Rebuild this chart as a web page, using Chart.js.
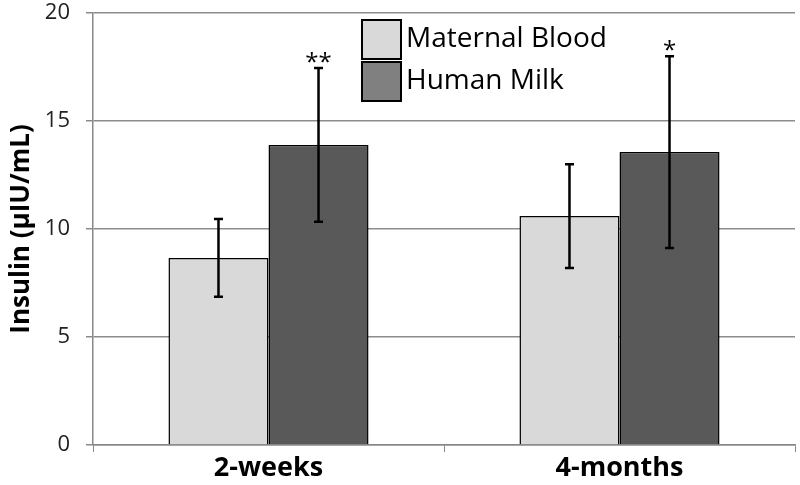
<!DOCTYPE html>
<html>
<head>
<meta charset="utf-8">
<script src="https://cdn.jsdelivr.net/npm/chart.js@4"></script>
<style>
  html, body { margin: 0; padding: 0; background: #fff; }
  #wrap { width: 800px; height: 485px; }
</style>
</head>
<body>
<div id="wrap"><canvas id="insulin-chart" width="800" height="485"></canvas></div>
<script>
// Chart data
const categories = ["2-weeks", "4-months"]
const seriesNames = ["Maternal Blood", "Human Milk"]
const maternalBlood = [8.66, 10.6]
const humanMilk = [13.89, 13.56]
const maternalBloodSD = [1.8, 2.4]
const humanMilkSD = [3.56, 4.44]
const humanMilkStars = ["**", "*"]
const yTicks = [0, 5, 10, 15, 20]

const FONT = "'Open Sans', 'Noto Sans', sans-serif"

// Error bars and significance stars, drawn from the scales
const errorBarPlugin = {
    id: "errorBars",
    afterDatasetsDraw(chart) {
        const ctx = chart.ctx
        const yScale = chart.scales.y
        const sds = [maternalBloodSD, humanMilkSD]
        ctx.save()
        chart.data.datasets.forEach((ds, di) => {
            const meta = chart.getDatasetMeta(di)
            meta.data.forEach((bar, i) => {
                const v = ds.data[i]
                const sd = sds[di][i]
                const top = yScale.getPixelForValue(v + sd)
                const bottom = yScale.getPixelForValue(v - sd)
                ctx.strokeStyle = "#000"
                ctx.lineWidth = 2.5
                ctx.beginPath()
                ctx.moveTo(bar.x, top)
                ctx.lineTo(bar.x, bottom)
                ctx.moveTo(bar.x - 4.5, top)
                ctx.lineTo(bar.x + 4.5, top)
                ctx.moveTo(bar.x - 4.5, bottom)
                ctx.lineTo(bar.x + 4.5, bottom)
                ctx.stroke()
                if (di === 1) {
                    ctx.fillStyle = "#000"
                    ctx.font = "24px " + FONT
                    ctx.textAlign = "center"
                    ctx.textBaseline = "alphabetic"
                    ctx.fillText(humanMilkStars[i], bar.x, top + 2)
                }
            })
        })
        ctx.restore()
    }
}

// Legend boxes inside the plot, like the original
const boxLegendPlugin = {
    id: "boxLegend",
    afterDraw(chart) {
        const ctx = chart.ctx
        const fills = ["#d9d9d9", "#808080"]
        ctx.save()
        seriesNames.forEach((name, i) => {
            const y = 20 + i * 42
            ctx.fillStyle = fills[i]
            ctx.fillRect(362, y, 39, 39)
            ctx.strokeStyle = "#000"
            ctx.lineWidth = 2
            ctx.strokeRect(362, y, 39, 39)
            ctx.fillStyle = "#000"
            ctx.font = "28px " + FONT
            ctx.textAlign = "left"
            ctx.textBaseline = "middle"
            ctx.fillText(name, 406, y + 19)
        })
        ctx.restore()
    }
}

const ctx = document.getElementById("insulin-chart")
const insulinChart = new Chart(ctx, {
    type: "bar",
    data: {
        labels: categories,
        datasets: [{
            label: seriesNames[0],
            data: maternalBlood,
            backgroundColor: "#d9d9d9",
            borderColor: "#000",
            borderWidth: 1.5
        }, {
            label: seriesNames[1],
            data: humanMilk,
            backgroundColor: "#595959",
            borderColor: "#000",
            borderWidth: 1.5
        }]
    },
    options: {
        responsive: false,
        animation: false,
        layout: {
            padding: { top: 13, right: 5, left: 0, bottom: 0 }
        },
        categoryPercentage: 0.57,
        barPercentage: 1.0,
        scales: {
            x: {
                offset: true,
                grid: {
                    offset: true,
                    drawOnChartArea: false,
                    tickLength: 7,
                    color: "#888"
                },
                border: { color: "#888", width: 1.5 },
                ticks: {
                    color: "#000",
                    font: { family: FONT, size: 27, weight: "bold" },
                    padding: 0
                },
                afterFit: s => {
                    s.height = 40
                    s.paddingLeft = 0
                    s.paddingRight = 0
                }
            },
            y: {
                min: 0,
                max: 20,
                afterBuildTicks: s => { s.ticks = yTicks.map(v => ({ value: v })) },
                grid: {
                    color: "#8c8c8c",
                    lineWidth: 1.5,
                    tickLength: 7
                },
                border: { color: "#888", width: 1.5 },
                ticks: {
                    color: "#222",
                    font: { family: FONT, size: 22 },
                    padding: 16
                },
                title: {
                    display: true,
                    text: "Insulin (µIU/mL)",
                    color: "#000",
                    font: { family: FONT, size: 26, weight: "bold" },
                    padding: { top: 6, bottom: 0 }
                },
                afterFit: s => {
                    s.width = 93
                    s.paddingTop = 0
                    s.paddingBottom = 0
                }
            }
        },
        plugins: {
            legend: { display: false },
            tooltip: { enabled: false }
        }
    },
    plugins: [errorBarPlugin, boxLegendPlugin]
})
</script>
</body>
</html>
